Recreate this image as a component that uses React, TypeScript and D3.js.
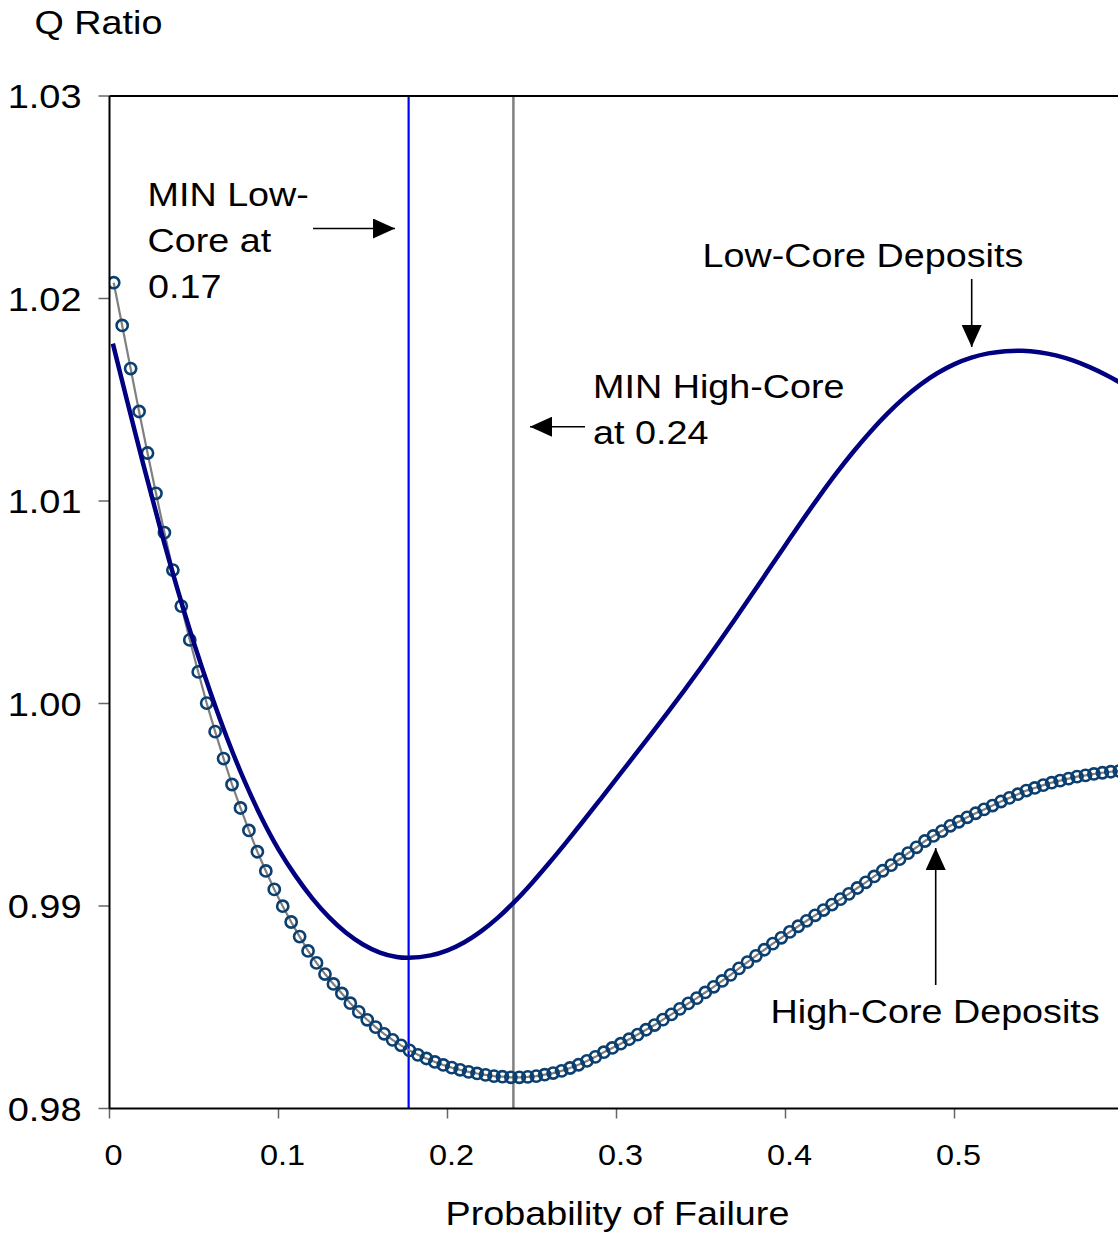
import React from "react";
import * as d3 from "d3";

// ---- data ----
const yTicks = [0.98, 0.99, 1.0, 1.01, 1.02, 1.03];
const yTickLabels = ["0.98", "0.99", "1.00", "1.01", "1.02", "1.03"];
const xTicks = [0, 0.1, 0.2, 0.3, 0.4, 0.5];
const xTickLabels = ["0", "0.1", "0.2", "0.3", "0.4", "0.5"];

// Low-Core Deposits (solid line)
const lowCoreProb = [
  0.002, 0.01, 0.02, 0.03, 0.04, 0.05, 0.06, 0.07, 0.08, 0.09, 0.1, 0.11, 0.12, 0.13, 0.14, 0.15, 0.16, 0.17,
  0.177, 0.19, 0.2, 0.21, 0.22, 0.23, 0.24, 0.25, 0.26, 0.27, 0.28, 0.29, 0.3, 0.31, 0.32, 0.33, 0.34, 0.35,
  0.36, 0.37, 0.38, 0.39, 0.4, 0.41, 0.42, 0.43, 0.44, 0.45, 0.46, 0.47, 0.48, 0.49, 0.5, 0.51, 0.52, 0.53,
  0.54, 0.55, 0.56, 0.57, 0.58, 0.59, 0.6,
];
const lowCoreQ = [
  1.01777, 1.01509, 1.01181, 1.00866, 1.00571, 1.00298, 1.00048, 0.9982, 0.99615, 0.99435, 0.9928, 0.9915,
  0.99038, 0.98944, 0.98868, 0.9881, 0.9877, 0.98748, 0.98744, 0.98756, 0.98781, 0.98821, 0.98876, 0.98944,
  0.99024, 0.99114, 0.99211, 0.99312, 0.99416, 0.99522, 0.99629, 0.99736, 0.99844, 0.99953, 1.00064, 1.00178,
  1.00295, 1.00415, 1.00537, 1.0066, 1.00783, 1.00905, 1.01023, 1.01136, 1.01242, 1.0134, 1.01429, 1.01508,
  1.01576, 1.01632, 1.01676, 1.01708, 1.01729, 1.0174, 1.01742, 1.01735, 1.01719, 1.01694, 1.01661, 1.01621,
  1.01575,
];

// High-Core Deposits (circles every 0.005 starting at 0.0025)
const highCoreStart = 0.0025;
const highCoreStep = 0.005;
const highCoreQ = [
  1.02078, 1.01867, 1.01654, 1.01442, 1.01237, 1.01038, 1.00844, 1.00659, 1.00481, 1.00314,
  1.00156, 1.00002, 0.99861, 0.99728, 0.996, 0.99484, 0.99373, 0.99268, 0.99173, 0.99082,
  0.98999, 0.98921, 0.98849, 0.98778, 0.98719, 0.98664, 0.98615, 0.98568, 0.9852, 0.98477,
  0.98438, 0.98402, 0.98369, 0.98339, 0.98312, 0.98287, 0.98265, 0.98247, 0.9823, 0.98215,
  0.98202, 0.98191, 0.98181, 0.98173, 0.98166, 0.9816, 0.98157, 0.98154, 0.98154, 0.98156,
  0.9816, 0.98167, 0.98175, 0.98186, 0.982, 0.98216, 0.98235, 0.98255, 0.98278, 0.98299,
  0.9832, 0.98342, 0.98365, 0.98389, 0.98412, 0.98439, 0.98465, 0.98492, 0.98519, 0.98545,
  0.98573, 0.98601, 0.9863, 0.9866, 0.98692, 0.98723, 0.98754, 0.98784, 0.98814, 0.98843,
  0.98872, 0.989, 0.98927, 0.98954, 0.9898, 0.99007, 0.99034, 0.9906, 0.99089, 0.99117,
  0.99146, 0.99174, 0.99202, 0.99231, 0.99261, 0.9929, 0.99321, 0.99346, 0.9937, 0.99396,
  0.99416, 0.99438, 0.99458, 0.99477, 0.99496, 0.99516, 0.99534, 0.99552, 0.9957, 0.99583,
  0.99597, 0.99609, 0.99619, 0.99629, 0.99639, 0.99645, 0.99652, 0.99658, 0.99663, 0.99667,
];

const minLowCore = 0.177;
const minHighCore = 0.239;

const W = 1118;
const H = 1237;
const FONT = "'Liberation Sans', Arial, Helvetica, sans-serif";

function Label({ x, y, size = 34, sx = 1.11, anchor = "start", children }: any) {
  return (
    <text
      transform={`translate(${x},${y}) scale(${sx},1)`}
      fontSize={size}
      fontFamily={FONT}
      textAnchor={anchor}
      fill="#000"
    >
      {children}
    </text>
  );
}

export default function App() {
  const x = d3.scaleLinear().domain([0, 0.6]).range([109.5, 1123.5]);
  const y = d3.scaleLinear().domain([0.98, 1.03]).range([1108.5, 96]);

  const lowPts: [number, number][] = lowCoreProb.map((p, i) => [p, lowCoreQ[i]]);
  const highPts: [number, number][] = highCoreQ.map((q, i) => [highCoreStart + highCoreStep * i, q]);

  const lowLine = d3
    .line<[number, number]>()
    .x((d) => x(d[0]))
    .y((d) => y(d[1]))
    .curve(d3.curveCatmullRom.alpha(0.5));
  const highLine = d3
    .line<[number, number]>()
    .x((d) => x(d[0]))
    .y((d) => y(d[1]));

  const left = x(0);
  const top = y(1.03);
  const bottom = y(0.98);

  return (
    <svg
      width={W}
      height={H}
      viewBox={`0 0 ${W} ${H}`}
      style={{ position: "absolute", left: 0, top: 0, background: "#fff" }}
    >
      <defs>
        <marker
          id="arrow"
          markerUnits="userSpaceOnUse"
          markerWidth={22}
          markerHeight={20}
          refX={22}
          refY={10}
          orient="auto"
        >
          <path d="M0,0 L22,10 L0,20 Z" fill="#000" />
        </marker>
        <clipPath id="plot">
          <rect x={left} y={top - 10} width={W - left} height={bottom - top + 10} />
        </clipPath>
      </defs>
      <rect x={0} y={0} width={W} height={H} fill="#fff" />

      {/* y ticks */}
      {yTicks.map((t) => (
        <line key={"yt" + t} x1={left - 11} x2={left} y1={y(t)} y2={y(t)} stroke="#666" strokeWidth={1.5} />
      ))}
      {/* x ticks */}
      {xTicks.map((t) => (
        <line key={"xt" + t} x1={x(t)} x2={x(t)} y1={bottom} y2={bottom + 10} stroke="#666" strokeWidth={1.5} />
      ))}

      {/* vertical minimum markers */}
      <line x1={x(minLowCore)} x2={x(minLowCore)} y1={top} y2={bottom} stroke="#0000ff" strokeWidth={2.2} />
      <line x1={x(minHighCore)} x2={x(minHighCore)} y1={top} y2={bottom} stroke="#808080" strokeWidth={2.5} />

      <g clipPath="url(#plot)">
        {/* High-core line + circles */}
        <path d={highLine(highPts) || ""} fill="none" stroke="#808080" strokeWidth={2.2} />
        {highPts.map((d, i) => (
          <circle key={"c" + i} cx={x(d[0])} cy={y(d[1])} r={5.6} fill="none" stroke="#0a3f70" strokeWidth={2.6} />
        ))}
        {/* Low-core line */}
        <path d={lowLine(lowPts) || ""} fill="none" stroke="#000080" strokeWidth={4.5} />
      </g>

      {/* axes frame */}
      <line x1={left} x2={left} y1={top} y2={bottom} stroke="#000" strokeWidth={2} />
      <line x1={left} x2={W} y1={bottom} y2={bottom} stroke="#000" strokeWidth={2} />
      <line x1={left} x2={W} y1={top} y2={top} stroke="#000" strokeWidth={2} />

      {/* tick labels */}
      {yTicks.map((t, i) => (
        <Label key={"yl" + t} x={81.5} y={y(t) + 12} size={33} sx={1.15} anchor="end">
          {yTickLabels[i]}
        </Label>
      ))}
      {xTicks.map((t, i) => (
        <Label key={"xl" + t} x={x(t) + 4} y={1165} size={29} sx={1.12} anchor="middle">
          {xTickLabels[i]}
        </Label>
      ))}

      {/* titles */}
      <Label x={34.5} y={34}>Q Ratio</Label>
      <Label x={445.5} y={1225}>Probability of Failure</Label>

      {/* annotations */}
      <Label x={147.5} y={206}>MIN Low-</Label>
      <Label x={147.5} y={252}>Core at</Label>
      <Label x={148} y={297.5}>0.17</Label>
      <line x1={313} y1={228.5} x2={395} y2={228.5} stroke="#000" strokeWidth={1.6} markerEnd="url(#arrow)" />

      <Label x={593} y={398}>MIN High-Core</Label>
      <Label x={593} y={444}>at 0.24</Label>
      <line x1={585} y1={426.7} x2={530} y2={426.7} stroke="#000" strokeWidth={1.6} markerEnd="url(#arrow)" />

      <Label x={702.5} y={267}>Low-Core Deposits</Label>
      <line x1={971.7} y1={279} x2={971.7} y2={347} stroke="#000" strokeWidth={1.6} markerEnd="url(#arrow)" />

      <Label x={770.5} y={1023}>High-Core Deposits</Label>
      <line x1={935.7} y1={985} x2={935.7} y2={848} stroke="#000" strokeWidth={1.6} markerEnd="url(#arrow)" />
    </svg>
  );
}
